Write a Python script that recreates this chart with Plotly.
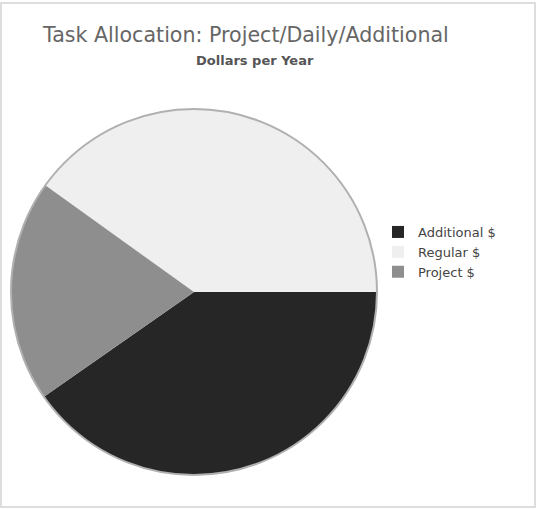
import plotly.graph_objects as go

W, H = 539, 509

categories = ["Additional $", "Regular $", "Project $"]
values = [40.3, 40.1, 19.6]
colors = ["#262626", "#efefef", "#8e8e8e"]

title_text = "Task Allocation: Project/Daily/Additional"
subtitle_text = "Dollars per Year"

# pie placement (pixels)
cx, cy, r = 194, 292, 183
dx0, dx1 = (cx - r) / W, (cx + r) / W
dy0, dy1 = (H - (cy + r)) / H, (H - (cy - r)) / H

fig = go.Figure(go.Pie(
    labels=categories,
    values=values,
    sort=False,
    direction="counterclockwise",
    rotation=90,
    marker=dict(colors=colors, line=dict(width=0)),
    textinfo="none",
    hoverinfo="label+value+percent",
    domain=dict(x=[dx0, dx1], y=[dy0, dy1]),
))

fig.update_layout(
    width=W, height=H,
    margin=dict(l=0, r=0, t=0, b=0),
    paper_bgcolor="white",
    plot_bgcolor="white",
    showlegend=True,
    legend=dict(
        x=378 / W, y=(H - 217) / H, xanchor="left", yanchor="top",
        font=dict(family="DejaVu Sans", size=13, color="#444444"),
        bgcolor="rgba(0,0,0,0)",
        tracegroupgap=0,
    ),
    annotations=[
        dict(text=title_text, x=245 / W, y=(H - 35) / H, xref="paper", yref="paper",
             showarrow=False, xanchor="center", yanchor="middle",
             font=dict(family="DejaVu Sans", size=20.6, color="#666666")),
        dict(text="<b>" + subtitle_text + "</b>", x=255 / W, y=(H - 60) / H,
             xref="paper", yref="paper", showarrow=False,
             xanchor="center", yanchor="middle",
             font=dict(family="DejaVu Sans", size=13, color="#555555")),
    ],
    shapes=[
        dict(type="rect", xref="paper", yref="paper",
             x0=1 / W, x1=535 / W, y0=(H - 507) / H, y1=(H - 3) / H,
             line=dict(color="#dddddd", width=2), layer="below"),
        dict(type="circle", xref="paper", yref="paper",
             x0=dx0, x1=dx1, y0=dy0, y1=dy1,
             line=dict(color="#b0b0b0", width=2), layer="above"),
    ],
)

fig.write_html("out.html", config={"displayModeBar": False},
               post_script="document.body.style.margin='0';")
